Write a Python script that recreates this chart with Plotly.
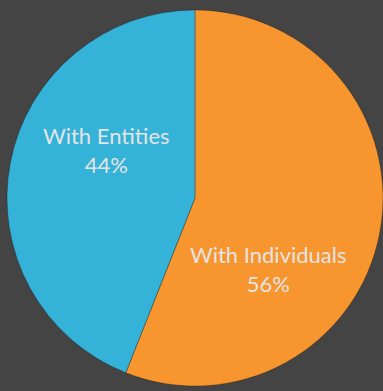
import plotly.graph_objects as go

labels = ["With Individuals", "With Entities"]
values = [56, 44]
colors = ["#F7952F", "#35B2D8"]

total = sum(values)
pct = [round(v / total * 100) for v in values]

fig = go.Figure(go.Pie(
    labels=labels,
    values=values,
    sort=False,
    direction="clockwise",
    rotation=0,
    marker=dict(colors=colors, line=dict(color="rgba(0,0,0,0.25)", width=1)),
    textinfo="none",
    hoverinfo="label+percent",
    domain=dict(x=[7 / 383, 1.0], y=[5 / 391, 381 / 391]),
    showlegend=False,
))

label_pos = {"With Individuals": (0.70, 0.312), "With Entities": (0.279, 0.616)}
for lab, p in zip(labels, pct):
    x, y = label_pos[lab]
    fig.add_annotation(
        x=x, y=y, xref="paper", yref="paper",
        xanchor="center", yanchor="middle",
        text=f"{lab}<br>{p}%", showarrow=False,
        font=dict(family="Lato, Open Sans, sans-serif", size=22, color="#E4E4E4"),
        align="center",
    )

fig.update_layout(
    width=383, height=391,
    margin=dict(l=0, r=0, t=0, b=0),
    paper_bgcolor="#444444",
    plot_bgcolor="#444444",
)

fig.write_html("out.html")
